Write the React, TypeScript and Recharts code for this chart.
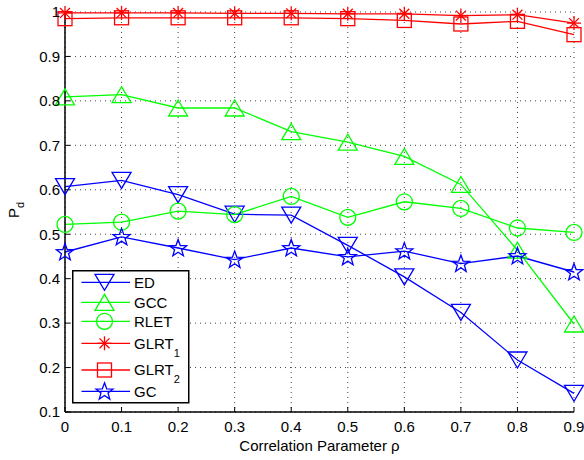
import React from 'react';
import { LineChart, Line, XAxis, YAxis, CartesianGrid, Label } from 'recharts';

const rho = [0, 0.1, 0.2, 0.3, 0.4, 0.5, 0.6, 0.7, 0.8, 0.9];
const ED = [0.607, 0.621, 0.589, 0.545, 0.543, 0.475, 0.404, 0.324, 0.217, 0.142];
const GCC = [0.809, 0.814, 0.784, 0.784, 0.731, 0.707, 0.675, 0.612, 0.464, 0.298];
const RLET = [0.522, 0.527, 0.552, 0.544, 0.585, 0.538, 0.573, 0.558, 0.514, 0.504];
const GLRT1 = [0.998, 0.998, 0.998, 0.997, 0.997, 0.996, 0.996, 0.992, 0.994, 0.975];
const GLRT2 = [0.985, 0.987, 0.987, 0.987, 0.987, 0.985, 0.981, 0.973, 0.979, 0.949];
const GC = [0.46, 0.494, 0.469, 0.443, 0.469, 0.449, 0.462, 0.434, 0.451, 0.415];

const xTicks = [0, 0.1, 0.2, 0.3, 0.4, 0.5, 0.6, 0.7, 0.8, 0.9];
const yTicks = [0.1, 0.2, 0.3, 0.4, 0.5, 0.6, 0.7, 0.8, 0.9, 1];

const data = rho.map((r, i) => ({
  rho: r,
  ED: ED[i],
  GCC: GCC[i],
  RLET: RLET[i],
  GLRT1: GLRT1[i],
  GLRT2: GLRT2[i],
  GC: GC[i],
}));

const BLUE = '#0000ff';
const GREEN = '#00ff00';
const RED = '#ff0000';
const FONT = '"Liberation Sans", Arial, Helvetica, sans-serif';
const SW = 1.3;

type MK = 'tdown' | 'tup' | 'circle' | 'star' | 'square' | 'penta';

function Marker({ kind, cx, cy, color }: { kind: MK; cx: number; cy: number; color: string }) {
  const common = { fill: 'none', stroke: color, strokeWidth: SW };
  switch (kind) {
    case 'tdown':
      return <polygon {...common} points={`${cx - 9.5},${cy - 8} ${cx + 9.5},${cy - 8} ${cx},${cy + 8}`} />;
    case 'tup':
      return <polygon {...common} points={`${cx - 9.5},${cy + 8} ${cx + 9.5},${cy + 8} ${cx},${cy - 8}`} />;
    case 'circle':
      return <circle {...common} cx={cx} cy={cy} r={8} />;
    case 'square':
      return <rect {...common} x={cx - 7} y={cy - 7} width={14} height={14} />;
    case 'star': {
      const r = 7;
      const d = r * 0.7071;
      return (
        <g {...common}>
          <line x1={cx} y1={cy - r} x2={cx} y2={cy + r} />
          <line x1={cx - r} y1={cy} x2={cx + r} y2={cy} />
          <line x1={cx - d} y1={cy - d} x2={cx + d} y2={cy + d} />
          <line x1={cx - d} y1={cy + d} x2={cx + d} y2={cy - d} />
        </g>
      );
    }
    case 'penta': {
      const pts: string[] = [];
      const R = 9;
      const r = 3.7;
      for (let k = 0; k < 10; k++) {
        const ang = -Math.PI / 2 + (k * Math.PI) / 5;
        const rad = k % 2 === 0 ? R : r;
        pts.push(`${cx + rad * Math.cos(ang)},${cy + 0.5 + rad * Math.sin(ang)}`);
      }
      return <polygon {...common} points={pts.join(' ')} />;
    }
  }
  return null;
}

const makeDot = (kind: MK, color: string) => (props: any) => {
  const { cx, cy, index } = props;
  if (cx == null || cy == null) return <g key={`d-${kind}-${index}`} />;
  return (
    <g key={`d-${kind}-${index}`}>
      <Marker kind={kind} cx={cx} cy={cy} color={color} />
    </g>
  );
};

const series: { key: string; name: string; sub?: string; color: string; kind: MK }[] = [
  { key: 'ED', name: 'ED', color: BLUE, kind: 'tdown' },
  { key: 'GCC', name: 'GCC', color: GREEN, kind: 'tup' },
  { key: 'RLET', name: 'RLET', color: GREEN, kind: 'circle' },
  { key: 'GLRT1', name: 'GLRT', sub: '1', color: RED, kind: 'star' },
  { key: 'GLRT2', name: 'GLRT', sub: '2', color: RED, kind: 'square' },
  { key: 'GC', name: 'GC', color: BLUE, kind: 'penta' },
];

const legendRows = [12.3, 32.3, 51.3, 73.3, 100, 121.3];

function LegendBox() {
  return (
    <svg width={118} height={134} style={{ position: 'absolute', left: 72, top: 270, fontFamily: FONT }}>
      <rect x={0.75} y={0.75} width={116} height={132} fill="#fff" stroke="#000" strokeWidth={1.5} />
      {series.map((s, i) => {
        const y = legendRows[i];
        return (
          <g key={s.key}>
            <line x1={9.5} x2={58} y1={y} y2={y} stroke={s.color} strokeWidth={SW} />
            <Marker kind={s.kind} cx={32.5} cy={y} color={s.color} />
            <text x={62} y={y + 5.2} fontSize={15} fill="#000">
              {s.name}
              {s.sub ? (
                <tspan fontSize={11} dy={8}>
                  {s.sub}
                </tspan>
              ) : null}
            </text>
          </g>
        );
      })}
    </svg>
  );
}

const YLabel = (props: any) => {
  const vb = props.viewBox || { x: 0, y: 12, width: 65, height: 400 };
  const x = vb.x + 19;
  const y = vb.y + vb.height / 2 - 2;
  return (
    <text
      x={x}
      y={y}
      transform={`rotate(-90, ${x}, ${y})`}
      textAnchor="middle"
      fontSize={15}
      fontFamily={FONT}
      fill="#000"
    >
      P<tspan fontSize={11} dy={5}>d</tspan>
    </text>
  );
};

export default function App() {
  return (
    <div style={{ position: 'absolute', left: 0, top: 0, width: 584, height: 460, background: '#fff' }}>
      <LineChart
        width={584}
        height={460}
        data={data}
        margin={{ top: 12, right: 10, bottom: 0, left: 0 }}
        style={{ fontFamily: FONT }}
      >
        <CartesianGrid stroke="#444" strokeDasharray="1 4" strokeWidth={1} />
        <XAxis
          dataKey="rho"
          type="number"
          domain={[0, 0.9]}
          ticks={xTicks}
          height={48}
          tickSize={-5}
          tickMargin={14}
          tick={{ fill: '#000', fontSize: 15 }}
          axisLine={{ stroke: '#000', strokeWidth: 1.5 }}
          tickLine={{ stroke: '#000' }}
          tickFormatter={(v: number) => (v === 0 ? '0' : v.toFixed(1))}
        >
          <Label value="Correlation Parameter ρ" position="insideBottom" offset={9} fill="#000" fontSize={15} />
        </XAxis>
        <XAxis
          xAxisId="top"
          orientation="top"
          dataKey="rho"
          type="number"
          domain={[0, 0.9]}
          ticks={xTicks}
          height={0}
          tickSize={-5}
          tick={false}
          axisLine={{ stroke: '#000', strokeWidth: 1.5 }}
          tickLine={{ stroke: '#000' }}
        />
        <YAxis
          type="number"
          domain={[0.1, 1]}
          ticks={yTicks}
          width={65}
          tickSize={-5}
          tickMargin={10}
          tick={{ fill: '#000', fontSize: 15 }}
          axisLine={{ stroke: '#000', strokeWidth: 1.5 }}
          tickLine={{ stroke: '#000' }}
          tickFormatter={(v: number) => (v === 1 ? '1' : v.toFixed(1))}
          label={<YLabel />}
        />
        <YAxis
          yAxisId="right"
          orientation="right"
          type="number"
          domain={[0.1, 1]}
          ticks={yTicks}
          width={0}
          tickSize={-5}
          tick={false}
          axisLine={{ stroke: '#000', strokeWidth: 1.5 }}
          tickLine={{ stroke: '#000' }}
        />
        {series.map((s) => (
          <Line
            key={s.key}
            dataKey={s.key}
            type="linear"
            stroke={s.color}
            strokeWidth={SW}
            dot={makeDot(s.kind, s.color)}
            activeDot={false}
            isAnimationActive={false}
          />
        ))}
      </LineChart>
      <LegendBox />
    </div>
  );
}
